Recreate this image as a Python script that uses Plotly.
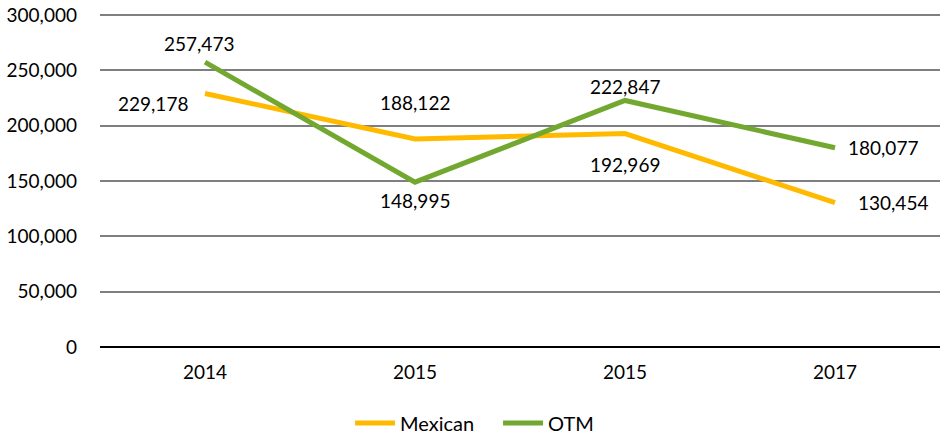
import plotly.graph_objects as go

categories = ["2014", "2015", "2015", "2017"]
mexican = [229178, 188122, 192969, 130454]
otm = [257473, 148995, 222847, 180077]
y_ticks = [0, 50000, 100000, 150000, 200000, 250000, 300000]

# label offsets (pixels) - style only
mex_off = [(-52, -10), (0, 36), (0, -31), (58, 0)]
otm_off = [(-6, 19), (0, -18), (0, 14), (48, 0)]

FONT = "Lato"
x_idx = list(range(len(categories)))

fig = go.Figure()
fig.add_trace(go.Scatter(x=x_idx, y=mexican, mode="lines", name="Mexican",
                         line=dict(color="#FFBA00", width=5)))
fig.add_trace(go.Scatter(x=x_idx, y=otm, mode="lines", name="OTM",
                         line=dict(color="#72A82F", width=5)))

ann = []
for vals, offs in ((mexican, mex_off), (otm, otm_off)):
    for i, (v, (dx, dy)) in enumerate(zip(vals, offs)):
        ann.append(dict(x=i, y=v, text=f"{v:,}", showarrow=False,
                        xshift=dx, yshift=dy,
                        font=dict(family=FONT, size=19, color="#000000")))

fig.update_layout(
    width=941, height=436,
    margin=dict(l=100, r=1, t=14, b=89, autoexpand=False),
    paper_bgcolor="white", plot_bgcolor="white",
    font=dict(family=FONT, size=19, color="#000000"),
    showlegend=True,
    legend=dict(orientation="h", xref="container", x=0.372, xanchor="left",
                yref="container", y=0.03, yanchor="middle",
                entrywidth=93, entrywidthmode="pixels",
                font=dict(family=FONT, size=20), itemwidth=40),
    annotations=ann,
    xaxis=dict(range=[-0.5, 3.5], tickvals=x_idx, ticktext=categories,
               showgrid=False, zeroline=False, showline=False, ticks="",
               automargin=False, ticklabelstandoff=12, fixedrange=True),
    yaxis=dict(range=[0, 301000], tickvals=y_ticks,
               ticktext=[f"{t:,}" for t in y_ticks],
               showgrid=True, gridcolor="#7F7F7F", gridwidth=1.5,
               zeroline=True, zerolinecolor="#000000", zerolinewidth=2,
               showline=False, ticks="", ticklabelstandoff=22,
               ticklabeloverflow="allow", automargin=False),
)
fig.write_html("out.html", config={"displayModeBar": False},
               post_script="document.body.style.margin='0';")
